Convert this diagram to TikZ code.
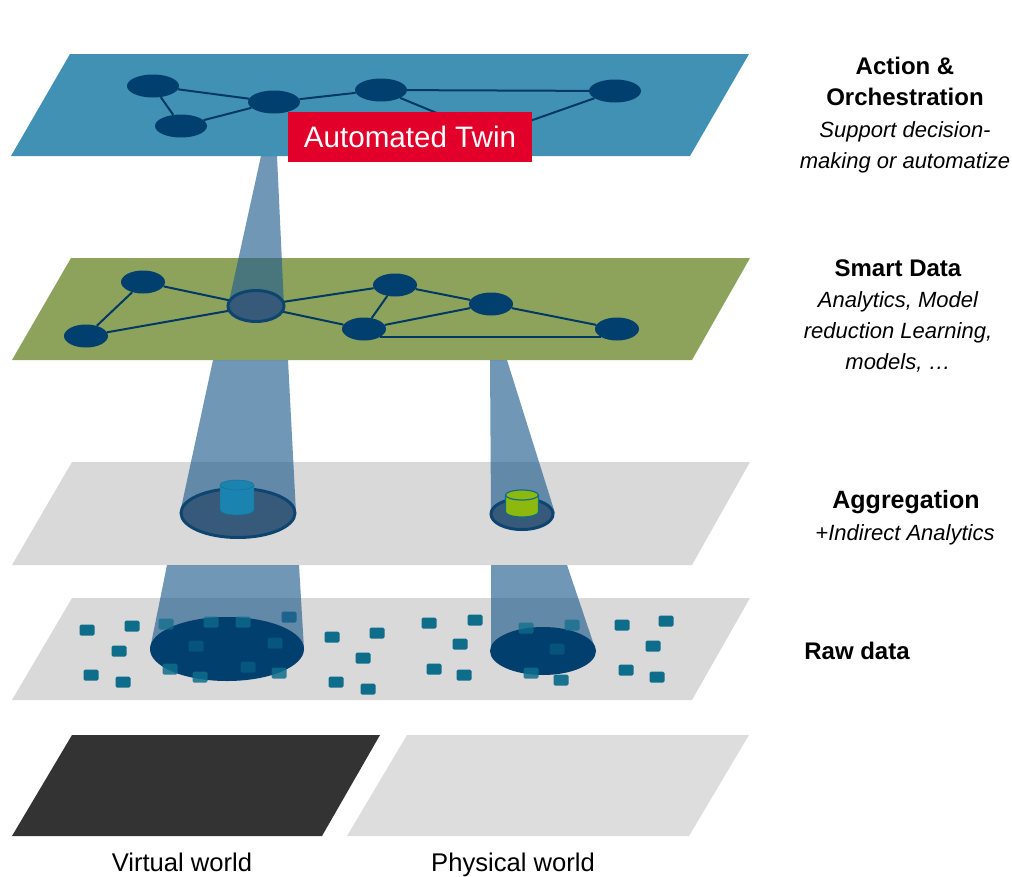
\documentclass[tikz,border=0pt]{standalone}
\usepackage{fontspec}
\setmainfont{Liberation Sans}
\usetikzlibrary{shapes.geometric}
\definecolor{planeblue}{HTML}{4191B4}
\definecolor{planegreen}{HTML}{8DA35C}
\definecolor{planegray}{HTML}{D9D9D9}
\definecolor{planedark}{HTML}{333333}
\definecolor{netblue}{HTML}{003F6E}
\definecolor{hubblue}{HTML}{385A7A}
\definecolor{beamblue}{HTML}{245F8E}
\definecolor{chipblue}{HTML}{0F6D8C}
\definecolor{canblue}{HTML}{1A83B0}
\definecolor{cangreen}{HTML}{8DB80E}
\definecolor{twinred}{HTML}{E2002A}

\tikzset{
  net/.style={ellipse, fill=netblue, inner sep=0, minimum width=44, minimum height=23},
  bignet/.style={net, minimum width=52},
  link/.style={draw=netblue!90!black, line width=2},
  beam/.style={fill=beamblue, fill opacity=.65},
  hub/.style={ellipse, inner sep=0, draw=netblue!90!gray, line width=3, fill=hubblue},
  spot/.style={ellipse, inner sep=0, fill=netblue},
  chip/.style={rectangle, rounded corners=1.5, fill=chipblue, inner sep=0, minimum width=15, minimum height=11},
  layertitle/.style={align=center, font=\fontsize{24}{31}\selectfont\bfseries},
  layernote/.style={align=center, font=\fontsize{22}{31}\selectfont\itshape},
  worldname/.style={anchor=base, font=\fontsize{25.6}{30}\selectfont}
}

\begin{document}
\begin{tikzpicture}[x=1pt, y=-1pt]
      \useasboundingbox (0, 0) rectangle (1012, 876);

      % planes
      \fill[planeblue] (70, 54) -- (749, 54) -- (690, 156) -- (11, 156) -- cycle;
      \fill[planegreen] (71, 258) -- (750, 258) -- (692, 360) -- (12, 360) -- cycle;
      \fill[planegray] (72, 462) -- (750, 462) -- (692, 565) -- (12, 565) -- cycle;
      \fill[planegray] (72, 598) -- (750, 598) -- (692, 700) -- (12, 700) -- cycle;
      \fill[planedark] (72, 735) -- (380, 735) -- (322, 836) -- (12, 836) -- cycle;
      \fill[planegray!90!white] (407, 735) -- (749, 735) -- (689, 836) -- (347, 836) -- cycle;

      % top network
      \node[bignet] (t1) at (153, 86) {};
      \node[bignet] (t2) at (181, 126) {};
      \node[bignet] (t3) at (274, 102) {};
      \node[bignet] (t4) at (381, 90) {};
      \node[bignet] (t5) at (615, 91) {};
      \coordinate (t6) at (490, 135);

      \draw[link] (t1) -- (t3);
      \draw[link] (t1) -- (t2);
      \draw[link] (t2) -- (t3);
      \draw[link] (t3) -- (t4);
      \draw[link] (t4) -- (t5);
      \draw[link] (t4) -- (t6);
      \draw[link] (t5) -- (t6);

      \node[fill=twinred, text=white, inner sep=0, minimum width=244, minimum height=50, font=\fontsize{29.6}{32}\selectfont] (twin) at (410, 137) {Automated Twin};

      % middle network
      \node[net] (m1) at (143, 282) {};
      \node[net] (m2) at (86, 336) {};
      \coordinate (m3) at (256, 306);
      \node[net] (m4) at (395, 285) {};
      \node[net] (m5) at (364, 329) {};
      \node[net] (m6) at (491, 304) {};
      \node[net] (m7) at (617, 329) {};

      \draw[link] (m1) -- (m2);
      \draw[link] (m1) -- (m3);
      \draw[link] (m2) -- (m3);
      \draw[link] (m3) -- (m4);
      \draw[link] (m3) -- (m5);
      \draw[link] (m4) -- (m5);
      \draw[link] (m4) -- (m6);
      \draw[link] (m5) -- (m6);
      \draw[link] (m6) -- (m7);
      \draw[link] (m5.south east) -- (m7.south west);

      % upper beams
      \fill[beam] (261, 156) -- (277, 156) -- (284, 306) -- (228, 306) -- cycle;
      \node[hub, minimum width=56, minimum height=31] (m0) at (256, 306) {};
      \fill[beam] (213, 360) -- (288, 360) -- (296, 513) -- (180, 513) -- cycle;
      \fill[beam] (490, 360) -- (507, 360) -- (555, 513) -- (491, 513) -- cycle;

      % aggregation
      \node[hub, minimum width=114, minimum height=49] (a1) at (238, 513) {};
      \node[hub, minimum width=62, minimum height=31] (a2) at (522, 514) {};
      \filldraw[fill=canblue, draw=canblue!85!black] (220, 485) -- (220, 510) arc[start angle=180, end angle=0, x radius=17, y radius=5] -- (254, 485) arc[start angle=0, end angle=-180, x radius=17, y radius=5] -- cycle;
      \draw[canblue!85!black] (220, 485) arc[start angle=180, end angle=0, x radius=17, y radius=5];
      \filldraw[fill=cangreen, draw=chipblue, line width=1.2] (505.5, 495) -- (505.5, 512) arc[start angle=180, end angle=0, x radius=16.5, y radius=5] -- (538.5, 495) arc[start angle=0, end angle=-180, x radius=16.5, y radius=5] -- cycle;
      \draw[chipblue, line width=1.2] (505.5, 495) arc[start angle=180, end angle=0, x radius=16.5, y radius=5];

      % raw data
      \foreach \x/\y [count=\i] in {87/630, 132/626, 289/617, 119/651, 91/675, 123/682, 332/637, 377/633, 363/658, 336/682, 368/689,
        429/623, 475/620, 460/644, 434/669, 464/675, 622/625, 666/621, 653/646, 626/670, 657/677}
        \node[chip] (s\i) at (\x, \y) {};

      % lower beams
      \fill[beam] (167, 565) -- (299, 565) -- (304, 649) -- (150, 649) -- cycle;
      \fill[beam] (491, 565) -- (567, 565) -- (596, 651) -- (491, 651) -- cycle;
      \node[spot, minimum width=154, minimum height=64] (r1) at (227, 649) {};
      \node[spot, minimum width=106, minimum height=48] (r2) at (543, 651) {};

      \foreach \x/\y/\o [count=\i] in {166/624/.75, 211/622/.75, 243/622/.75, 196/646/.45, 275/643/.5, 170/669/.85, 200/677/.85, 248/667/.5, 279/673/.85,
        526/628/.75, 572/625/.75, 557/649/.45, 531/673/.85, 561/680/.95}
        \node[chip, fill opacity=\o] (u\i) at (\x, \y) {};

      % labels
      \node[layertitle] (action) at (905, 81) {Action \&\\Orchestration};
      \node[layernote] (actionnote) at (905, 147) {Support decision-\\making or automatize};
      \node[layertitle] (smart) at (898, 268) {Smart Data};
      \node[layernote] (smartnote) at (898, 332) {Analytics, Model\\reduction Learning,\\models, …};
      \node[layertitle, font=\fontsize{25}{30}\selectfont\bfseries] (aggr) at (906, 502) {Aggregation};
      \node[layernote] (aggrnote) at (905, 535) {+Indirect Analytics};
      \node[layertitle] (raw) at (857, 651) {Raw data};
      \node[worldname] (virtual) at (182, 871) {Virtual world};
      \node[worldname] (physical) at (513, 871) {Physical world};
    \end{tikzpicture}
\end{document}
